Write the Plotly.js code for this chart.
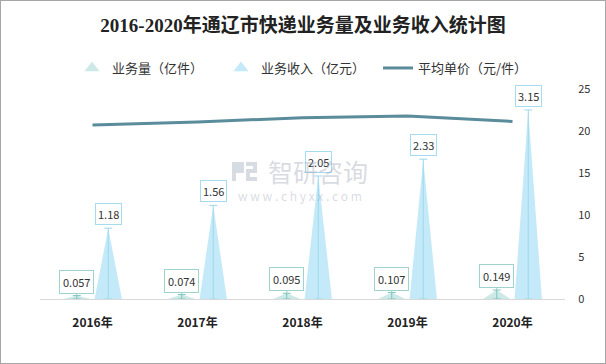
<!DOCTYPE html>
<html><head><meta charset="utf-8">
<script src="https://cdn.plot.ly/plotly-3.0.1.min.js"></script>
<style>html,body{margin:0;padding:0;background:#fff}#chart{width:604px;height:362px;border:1px solid #a6a6a6}</style>
</head><body><div id="chart"></div>
<script>
const categories = ['2016年','2017年','2018年','2019年','2020年'];
const volume = [0.057, 0.074, 0.095, 0.107, 0.149];   // 业务量（亿件）
const revenue = [1.18, 1.56, 2.05, 2.33, 3.15];      // 业务收入（亿元）
const price = [20.70, 21.08, 21.58, 21.78, 21.14];   // 平均单价（元/件）
const rightTicks = [0, 5, 10, 15, 20, 25];

const CJK = '"Noto Sans CJK SC", "Noto Sans", sans-serif';
const OFF = 0.15, HW = 0.13;
const VOL_C = '#cce9e7', REV_C = '#c4e9f8', LINE_C = '#5b8c9b';
function triangles(vals, off) {
  const xs = [], ys = [];
  vals.forEach((v, i) => {
    const c = i + off;
    xs.push(c - HW, c, c + HW, c - HW, null);
    ys.push(0, v, 0, 0, null);
  });
  return {x: xs, y: ys};
}
const idx = categories.map((_, i) => i);
const tv = triangles(volume, -OFF), tr = triangles(revenue, OFF);

const traces = [
  {type:'scatter', mode:'lines', x:tv.x, y:tv.y, fill:'toself', showlegend:false,
   fillcolor:VOL_C, line:{width:0, color:VOL_C}, hoverinfo:'skip', yaxis:'y'},
  {type:'scatter', mode:'lines', x:tr.x, y:tr.y, fill:'toself', showlegend:false,
   fillcolor:REV_C, line:{width:0, color:REV_C}, hoverinfo:'skip', yaxis:'y'},
  {type:'scatter', mode:'markers', x:idx.map(i => i - OFF), y:volume, showlegend:false, hoverinfo:'skip',
   marker:{size:1, opacity:0}, error_y:{type:'data', symmetric:false, array:volume.map(()=>0), arrayminus:volume,
   width:4, thickness:1, color:'#7cc5bd'}},
  {type:'scatter', mode:'markers', x:idx.map(i => i + OFF), y:revenue, showlegend:false, hoverinfo:'skip',
   marker:{size:1, opacity:0}, error_y:{type:'data', symmetric:false, array:revenue.map(()=>0), arrayminus:revenue,
   width:4, thickness:1, color:'#9dd8ee'}},
  {type:'scatter', mode:'markers', name:'业务量（亿件）', x:[null], y:[null], legendwidth:104,
   marker:{symbol:'triangle-up', size:13, color:VOL_C}, hoverinfo:'skip'},
  {type:'scatter', mode:'markers', name:'业务收入（亿元）', x:[null], y:[null], legendwidth:112,
   marker:{symbol:'triangle-up', size:13, color:REV_C}, hoverinfo:'skip'},
  {type:'scatter', mode:'lines', name:'平均单价（元/件）', x:idx, y:price, yaxis:'y2', legendwidth:110,
   line:{color:LINE_C, width:3}, hoverinfo:'skip'}
];

const annotations = [];
revenue.forEach((v, i) => annotations.push({
  x: i + OFF, y: v, xref:'x', yref:'y', text: v.toFixed(2), showarrow:false,
  yanchor:'bottom', yshift:3, bgcolor:'#fff', bordercolor:'#a6dcf0', borderwidth:1, borderpad:2,
  font:{family:CJK, size:11, color:'#333'}
}));
volume.forEach((v, i) => annotations.push({
  x: i - OFF, y: v, xref:'x', yref:'y', text: String(v), showarrow:true, arrowhead:0,
  ax:0, ay:-14, standoff:0, arrowcolor:'#8fd0c8', arrowwidth:1,
  bgcolor:'#fff', bordercolor:'#9fd4ce', borderwidth:1, borderpad:3,
  font:{family:CJK, size:11, color:'#333'}
}));
// watermark (page pixel -> paper)
const PL = 40, PW = 525, PB = 299, PH = 210;
const px = p => (p - PL) / PW, py = p => (PB - p) / PH;
const WM = 'rgba(160,170,186,0.42)';
annotations.push({xref:'paper', yref:'paper', x:px(318), y:py(171), text:'智研咨询', showarrow:false,
  font:{family:CJK, size:25, color:WM}});
annotations.push({xref:'paper', yref:'paper', x:px(300), y:py(195), text:'w w w . c h y x x . c o m', showarrow:false,
  font:{family:CJK, size:12, color:WM}});
function pathPx(pts) {
  return 'M' + pts.map(p => px(p[0]) + ',' + py(p[1])).join(' L') + ' Z';
}
const shapes = [
  {type:'path', xref:'paper', yref:'paper', line:{width:0}, fillcolor:WM,
   path: pathPx([[232,162],[244,162],[244,173],[236,173],[236,181],[232,181]])},
  {type:'path', xref:'paper', yref:'paper', line:{width:0}, fillcolor:WM,
   path: pathPx([[246,162],[257,162],[257,173],[250,173],[250,177],[257,177],[257,181],[246,181],[246,169],[253,169],[253,166],[246,166]])}
];

const layout = {
  width:604, height:362,
  margin:{l:39, r:40, t:88, b:64},
  paper_bgcolor:'#fff', plot_bgcolor:'#fff',
  showlegend:true,
  title:{text:'2016-2020年通辽市快递业务量及业务收入统计图', x:0.5, xanchor:'center',
    y:1-24/362, yref:'container', yanchor:'middle',
    font:{family:'"Liberation Serif", "Noto Sans CJK SC", serif', size:19, color:'#222', weight:'bold'}},
  legend:{orientation:'h', x:0.5, xanchor:'center', y:1-67/362, yref:'container', yanchor:'middle',
    font:{family:CJK, size:13, color:'#333'}, traceorder:'normal'},
  xaxis:{range:[-0.5, 4.5], tickvals:idx, ticktext:categories, showgrid:false, zeroline:false,
    showline:true, linecolor:'#d9d9d9', linewidth:1, ticks:'outside', ticklen:13, tickcolor:'rgba(0,0,0,0)',
    tickfont:{family:CJK, size:12, color:'#222', weight:'bold'}, fixedrange:true},
  yaxis:{range:[0, 3.5], visible:false, showgrid:false, zeroline:false, fixedrange:true},
  yaxis2:{range:[0, 25], overlaying:'y', side:'right', tickvals:rightTicks, showgrid:false, zeroline:false,
    showline:false, ticks:'outside', ticklen:10, tickcolor:'rgba(0,0,0,0)',
    tickfont:{family:CJK, size:11, color:'#333'}, fixedrange:true},
  annotations: annotations,
  shapes: shapes
};
Plotly.newPlot('chart', traces, layout, {displayModeBar:false, staticPlot:true});
</script></body></html>
